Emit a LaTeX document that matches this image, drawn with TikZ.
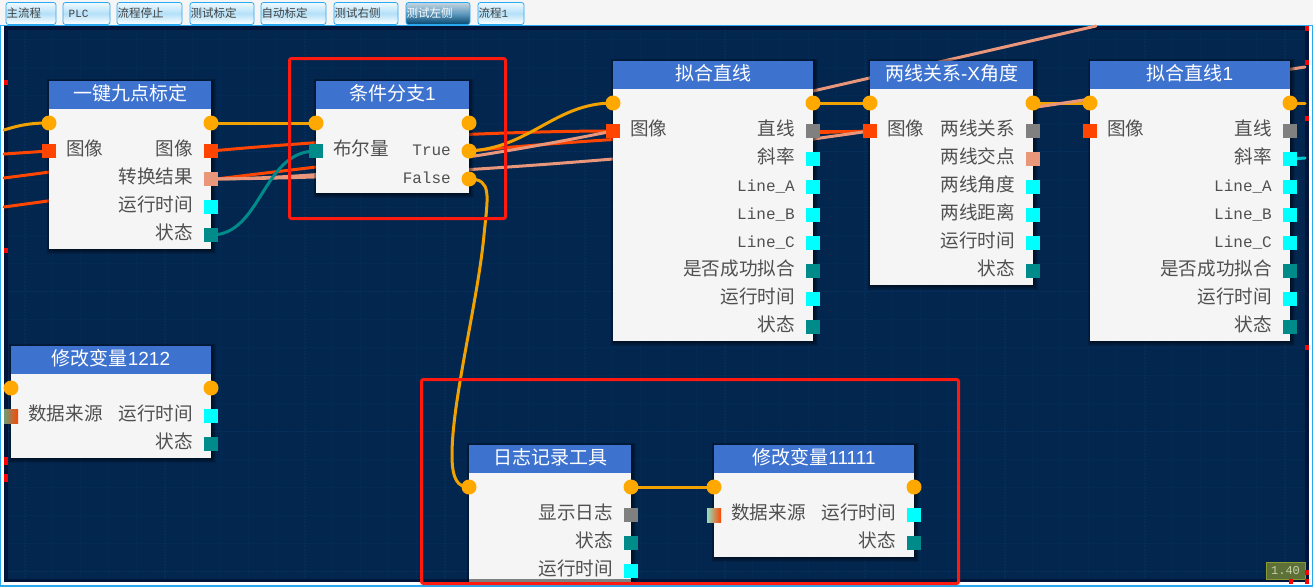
\documentclass[tikz,border=0pt]{standalone}
\usepackage{fontspec}
\setmainfont{Noto Sans CJK SC}
\newfontfamily\lat{Liberation Mono}
\newfontfamily\ttl{Liberation Sans}
\usetikzlibrary{calc}
\definecolor{navy}{HTML}{03264F}
\definecolor{edgedark}{HTML}{01153A}
\definecolor{gridminor}{HTML}{032A55}
\definecolor{gridmajor}{HTML}{0B3360}
\definecolor{hdr}{HTML}{3D72CF}
\definecolor{body}{HTML}{F5F5F5}
\definecolor{porange}{HTML}{FFA800}
\definecolor{wgold}{HTML}{F2A200}
\definecolor{ored}{HTML}{FF4500}
\definecolor{salmon}{HTML}{E9967A}
\definecolor{pteal}{HTML}{008B8B}
\definecolor{pcy}{HTML}{00FFFF}
\definecolor{pgr}{HTML}{808080}
\definecolor{wcy}{HTML}{00C8D0}
\definecolor{tabline}{HTML}{2AA8F0}
\definecolor{redbox}{HTML}{FF1A10}
\definecolor{lbl}{HTML}{505050}
\definecolor{tabtop}{HTML}{F0FAFF}
\definecolor{tabmid}{HTML}{B4E0F8}
\definecolor{tabbot}{HTML}{FFFFFF}
\definecolor{acttop}{HTML}{C5D5DF}
\definecolor{actmid}{HTML}{5F9ABF}
\definecolor{actbot}{HTML}{05466E}
\definecolor{badgef}{HTML}{5D7038}
\definecolor{badged}{HTML}{8A9A30}
\definecolor{badget}{HTML}{C8D0A8}
\definecolor{gradf}{HTML}{6F9A7A}
\definecolor{gradh}{HTML}{90E0C0}
\pgfdeclarelayer{wires}
\pgfdeclarelayer{top}
\pgfsetlayers{wires,main,top}
\tikzset{
  x=1pt,y=-1pt,
  bodybox/.style={fill=body,inner sep=0pt,outer sep=0pt,anchor=north west},
  hdrbox/.style={fill=hdr,inner sep=0pt,outer sep=0pt,anchor=north west},
  ttltext/.style={text=white,font=\fontsize{19}{19}\selectfont,inner sep=0pt,anchor=center},
  lbltext/.style={text=lbl,font=\fontsize{18.6}{19}\selectfont,inner sep=0pt},
  pcirc/.style={circle,fill=porange,minimum size=15pt,inner sep=0pt},
  psq/.style={rectangle,minimum size=14pt,inner sep=0pt},
  pred/.style={psq,fill=ored},
  pgray/.style={psq,fill=pgr},
  pcyan/.style={psq,fill=pcy},
  ptealb/.style={psq,fill=pteal},
  psal/.style={psq,fill=salmon},
  pgrad/.style={psq,left color=#1,right color=ored},
  wire/.style={line width=3pt,line cap=round},
  wgoldw/.style={wire,draw=wgold},
  wred/.style={wire,draw=ored},
  wsal/.style={wire,draw=salmon},
  wteal/.style={wire,draw=pteal},
  wcyan/.style={wire,draw=wcy},
  redrect/.style={draw=redbox,line width=3pt,rounded corners=2pt,inner sep=0pt,outer sep=0pt,anchor=north west},
  tabbox/.style={draw=tabline,line width=0.8pt,rounded corners=2.5pt,top color=tabtop,bottom color=tabbot,middle color=tabmid,inner sep=0pt,outer sep=0pt,anchor=north west,minimum height=22pt},
  tabact/.style={draw=tabline,line width=0.8pt,rounded corners=2.5pt,top color=acttop,bottom color=actbot,middle color=actmid,inner sep=0pt,outer sep=0pt,anchor=north west,minimum height=22pt},
  tabtxt/.style={text=black!75,font=\fontsize{11.5}{12}\selectfont,inner sep=0pt,anchor=west},
  tick/.style={fill=red,inner sep=0pt,minimum width=4pt,minimum height=5pt},
}
\newcommand{\blk}[6]{%
  \foreach \s in {1,...,5}{\fill[black,opacity=0.13] ({#2+1-\s*0.7},{#3+1-\s*0.7}) rectangle ({#4+\s},{#5+\s});}
  \node[bodybox,minimum width={(#4-#2)*1pt},minimum height={(#5-#3)*1pt}] (#1) at (#2,#3) {};
  \node[hdrbox,minimum width={(#4-#2)*1pt},minimum height=28pt] (#1h) at (#2,#3) {};
  \node[ttltext] (#1t) at ({(#2+#4)/2},{#3+12}) {#6};
}
\newcommand{\pr}[5]{%
  \node[#4] (#1) at (#2,#3) {};
  \node[lbltext,anchor=east] (#1t) at ({#2-18},{#3-2.5}) {#5};
}
\newcommand{\pl}[5]{%
  \node[#4] (#1) at (#2,#3) {};
  \node[lbltext,anchor=west] (#1t) at ({#2+17},{#3-2.5}) {#5};
}
\newcommand{\tabb}[5][tabbox]{%
  \node[#1,minimum width={(#4-#3)*1pt}] (#2) at (#3,2.5) {};
  \node[tabtxt] (#2t) at (#3+0.5,13.5) {#5};
}
\newcommand{\mono}[1]{\raisebox{-6.5pt}[0pt][0pt]{\lat\fontsize{16}{18}\selectfont #1}}
\begin{document}
\begin{tikzpicture}
\useasboundingbox (0,0) rectangle (1313,587);
\begin{pgfonlayer}{wires}
  \fill[body] (0,0) rectangle (1313,587);
  \fill[tabline] (0,24.5) rectangle (1313,587);
  \fill[white] (1,26) rectangle (1311.5,585);
  \fill[edgedark] (3.5,26) rectangle (1309,582);
  \fill[navy] (8,30) rectangle (1305,579);
  \foreach \g in {24,52,...,1304}{\draw[gridminor,line width=0.6pt] (\g,30) -- (\g,579);}
  \foreach \g in {39,67,...,579}{\draw[gridminor,line width=0.6pt] (8,\g) -- (1305,\g);}
  \foreach \g in {25,165,...,1305}{\draw[gridmajor,line width=1pt,dotted] (\g,30) -- (\g,579);}
  \foreach \g in {151,291,431,571}{\draw[gridmajor,line width=1pt,dotted] (8,\g) -- (1305,\g);}
\end{pgfonlayer}

% tabs
\tabb{t1}{6}{56}{主流程}
\tabb{t2}{63}{110}{\hspace{5pt}{\lat\fontsize{11}{12}\selectfont PLC}}
\tabb{t3}{117}{182}{流程停止}
\tabb{t4}{190}{254}{测试标定}
\tabb{t5}{261}{326}{自动标定}
\tabb{t6}{334}{398}{测试右侧}
\tabb[tabact]{t7}{406}{470}{\textcolor{white}{测试左侧}}
\tabb{t8}{478}{524}{流程{\lat\fontsize{11}{12}\selectfont 1}}

% block 1
\blk{a}{49}{81}{211}{249}{一键九点标定}
\node[pcirc] (ain) at (49,123) {};
\node[pcirc] (aout) at (211,123) {};
\pl{aimgin}{49}{151}{pred}{图像}
\pr{aimg}{211}{151}{pred}{图像}
\pr{aconv}{211}{179}{psal}{转换结果}
\pr{atime}{211}{207}{pcyan}{运行时间}
\pr{astat}{211}{235}{ptealb}{状态}

% block 2
\blk{b}{316}{81}{469}{193}{条件分支{\ttl 1}}
\node[pcirc] (bin) at (316,123) {};
\node[pcirc] (bout) at (469,123) {};
\pl{bbool}{316}{151}{ptealb}{布尔量}
\pr{btrue}{469}{151}{pcirc}{\mono{True}}
\pr{bfalse}{469}{179}{pcirc}{\mono{False}}

% block 3
\blk{c}{613}{61}{813}{341}{拟合直线}
\node[pcirc] (cin) at (613,103) {};
\node[pcirc] (cout) at (813,103) {};
\pl{cimg}{613}{131}{pred}{图像}
\pr{cline}{813}{131}{pgray}{直线}
\pr{cslope}{813}{159}{pcyan}{斜率}
\pr{cla}{813}{187}{pcyan}{\mono{Line\_A}}
\pr{clb}{813}{215}{pcyan}{\mono{Line\_B}}
\pr{clc}{813}{243}{pcyan}{\mono{Line\_C}}
\pr{cok}{813}{271}{ptealb}{是否成功拟合}
\pr{ctime}{813}{299}{pcyan}{运行时间}
\pr{cstat}{813}{327}{ptealb}{状态}

% block 4
\blk{d}{870}{61}{1033}{285}{两线关系{\ttl -X}角度}
\node[pcirc] (din) at (870,103) {};
\node[pcirc] (dout) at (1033,103) {};
\pl{dimg}{870}{131}{pred}{图像}
\pr{drel}{1033}{131}{pgray}{两线关系}
\pr{dcross}{1033}{159}{psal}{两线交点}
\pr{dang}{1033}{187}{pcyan}{两线角度}
\pr{ddist}{1033}{215}{pcyan}{两线距离}
\pr{dtime}{1033}{243}{pcyan}{运行时间}
\pr{dstat}{1033}{271}{ptealb}{状态}

% block 5
\blk{e}{1090}{61}{1290}{341}{拟合直线{\ttl 1}}
\node[pcirc] (ein) at (1090,103) {};
\node[pcirc] (eout) at (1290,103) {};
\pl{eimg}{1090}{131}{pred}{图像}
\pr{eline}{1290}{131}{pgray}{直线}
\pr{eslope}{1290}{159}{pcyan}{斜率}
\pr{ela}{1290}{187}{pcyan}{\mono{Line\_A}}
\pr{elb}{1290}{215}{pcyan}{\mono{Line\_B}}
\pr{elc}{1290}{243}{pcyan}{\mono{Line\_C}}
\pr{eok}{1290}{271}{ptealb}{是否成功拟合}
\pr{etime}{1290}{299}{pcyan}{运行时间}
\pr{estat}{1290}{327}{ptealb}{状态}

% block 6
\blk{f}{11}{346}{211}{458}{修改变量{\ttl 1212}}
\node[pcirc] (fin) at (11,388) {};
\node[pcirc] (fout) at (211,388) {};
\pl{fsrc}{11}{416}{pgrad=gradf}{数据来源}
\pr{ftime}{211}{416}{pcyan}{运行时间}
\pr{fstat}{211}{444}{ptealb}{状态}

% block 7
\blk{g}{469}{445}{631}{579}{日志记录工具}
\node[pcirc] (gin) at (469,487) {};
\node[pcirc] (gout) at (631,487) {};
\pr{gshow}{631}{515}{pgray}{显示日志}
\pr{gstat}{631}{543}{ptealb}{状态}
\pr{gtime}{631}{571}{pcyan}{运行时间}

% block 8
\blk{h}{714}{445}{914}{557}{修改变量{\ttl 11111}}
\node[pcirc] (hin) at (714,487) {};
\node[pcirc] (hout) at (914,487) {};
\pl{hsrc}{714}{515}{pgrad=gradh}{数据来源}
\pr{htime}{914}{515}{pcyan}{运行时间}
\pr{hstat}{914}{543}{ptealb}{状态}

% free ends of connectors
\coordinate (l1) at (4,130);
\coordinate (l2) at (4,154);
\coordinate (l3) at (4,178);
\coordinate (l4) at (4,207);
\coordinate (h1) at (640,138);
\coordinate (h2) at (613,159);
\coordinate (h3) at (813,91);
\coordinate (h4) at (700,155);
\coordinate (h5) at (990,114);
\coordinate (r1) at (1096,26);
\coordinate (r2) at (1305,67);
\coordinate (r3) at (1305,103);
\coordinate (r4) at (1305,158);

\begin{pgfonlayer}{wires}
  \draw[wred] (l2) -- (aimgin.center);
  \draw[wred] (l3) -- (aimg.center);
  \draw[wred] (aimg.center) .. controls (330,140) and (500,131) .. (cimg.center);
  \draw[wred] (l4) .. controls (200,180) and (450,148) .. (h1) -- (dimg.center);
  \draw[wred] (cline.center) -- (dimg.center);
  \draw[wsal] (aconv.center) .. controls (350,178) and (480,170) .. (h2) .. controls (680,150) and (740,108) .. (h3) -- (r1);
  \draw[wsal] (aconv.center) .. controls (340,178) and (470,160) .. (cimg.center);
  \draw[wsal] (h4) -- (dimg.center);
  \draw[wgoldw] (dout.center) -- (ein.center);
  \draw[wsal] (h5) -- (r2);
  \draw[wgoldw] (l1) .. controls (20,125) and (30,123) .. (ain.center);
  \draw[wgoldw] (aout.center) -- (bin.center);
  \draw[wgoldw] (btrue.center) .. controls (530,148) and (555,103) .. (cin.center);
  \draw[wgoldw] (bfalse.center) .. controls (492,179) and (488,195) .. (484,235)
     .. controls (478,300) and (452,400) .. (452,455)
     .. controls (452,480) and (458,487) .. (gin.center);
  \draw[wgoldw] (cout.center) -- (din.center);
  \draw[wgoldw] (gout.center) -- (hin.center);
  \draw[wgoldw] (eout.center) -- (r3);
  \draw[wcyan] (eslope.center) -- (r4);
  \draw[wteal] (astat.center) .. controls (262,235) and (262,151) .. (bbool.center);
\end{pgfonlayer}

\begin{pgfonlayer}{top}
  \fill[edgedark] (640,579) rectangle (1309,582);
  \fill[edgedark] (3.5,579) rectangle (466,582);
  \fill[pgr] (469,579) rectangle (631,582);
  \fill[white] (1,582) rectangle (1311.5,585);
  \node[redrect,minimum width=216pt,minimum height=160pt] (r1box) at (289.5,58.5) {};
  \node[redrect,minimum width=537pt,minimum height=204pt] (r2box) at (421.5,379.5) {};
  \node[draw=badged,fill=badgef,line width=0.8pt,minimum width=39pt,minimum height=17pt,inner sep=0pt,text=badget,font=\lat\fontsize{12}{12}\selectfont] (zoomb) at (1285.5,570.5) {1.40};
  \node[tick] (k1) at (6,82) {};
  \node[tick] (k2) at (6,250) {};
  \node[tick,minimum height=8pt] (k3) at (6,461) {};
  \node[tick,minimum height=8pt] (k4) at (6,478) {};
  \node[tick] (k5) at (1307,28) {};
  \node[tick] (k6) at (1307,62) {};
  \node[tick] (k7) at (1307,118) {};
  \node[tick] (k8) at (1307,347.5) {};
  \node[tick] (k9) at (1307,572) {};
  \node[tick] (k10) at (1307,581) {};
  \node[tick] (k11) at (1291,581) {};
\end{pgfonlayer}
\end{tikzpicture}
\end{document}
